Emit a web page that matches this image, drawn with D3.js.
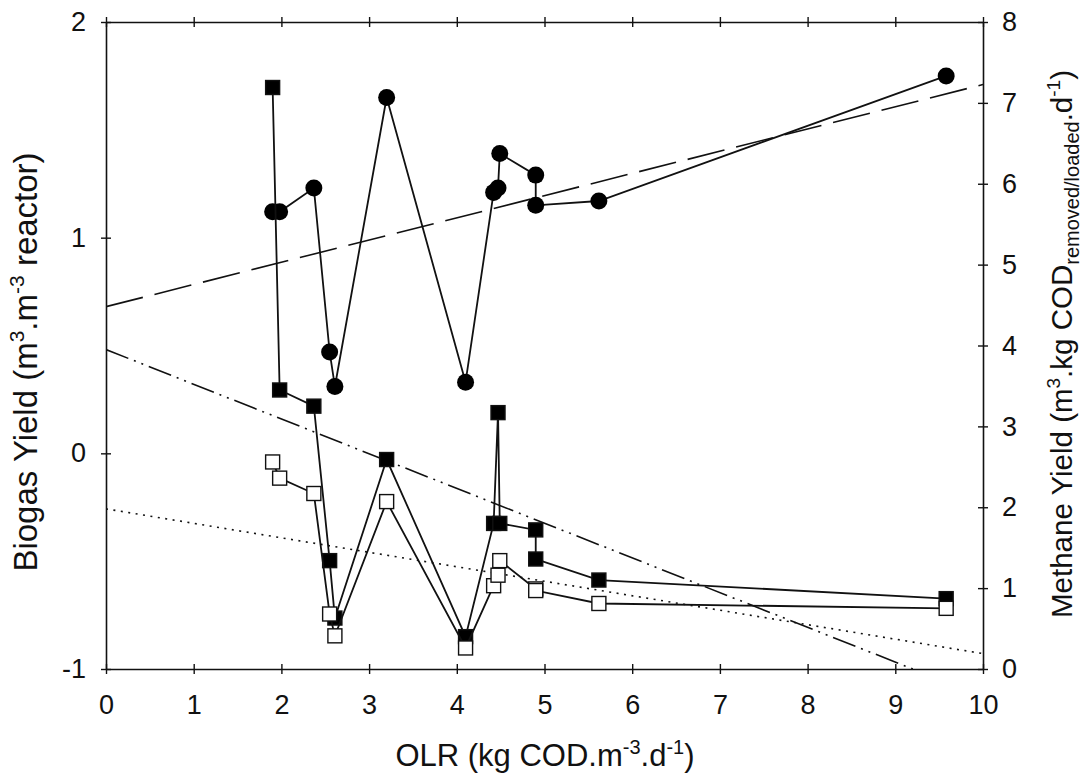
<!DOCTYPE html>
<html>
<head>
<meta charset="utf-8">
<script src="https://cdn.jsdelivr.net/npm/d3@7"></script>
<style>
  body { margin: 0; background: #fff; }
  text { font-family: "Liberation Sans", Arial, sans-serif; fill: #111; }
</style>
</head>
<body>
<div id="chart"></div>
<script>
// OLR samples (kg COD.m-3.d-1)
var olr = [1.90, 1.98, 2.37, 2.55, 2.61, 3.20, 4.10, 4.42, 4.47, 4.49, 4.90, 4.90, 5.62, 9.58];
// left axis, circles
var biogasYield = [1.12, 1.12, 1.23, 0.47, 0.31, 1.65, 0.33, 1.21, 1.23, 1.39, 1.29, 1.15, 1.17, 1.75];
// right axis, filled squares
var methaneRemoved = [7.19, 3.45, 3.25, 1.34, 0.63, 2.59, 0.40, 1.80, 3.17, 1.80, 1.72, 1.36, 1.10, 0.87];
// right axis, open squares
var methaneLoaded = [2.56, 2.36, 2.17, 0.68, 0.41, 2.07, 0.26, 1.03, 1.16, 1.34, 0.99, 0.97, 0.81, 0.75];

// regression lines
var biogasFitX = [0, 10], biogasFit = [0.68, 1.71];
var removedFitX = [0, 9.2], removedFit = [3.95, 0];
var loadedFitX = [0, 10], loadedFit = [1.98, 0.19];

var xTicks = [0, 1, 2, 3, 4, 5, 6, 7, 8, 9, 10];
var leftTicks = [-1, 0, 1, 2];
var rightTicks = [0, 1, 2, 3, 4, 5, 6, 7, 8];

var width = 1086, height = 777;
var x0 = 106, x1 = 983, yTop = 22, yBot = 669;

var svg = d3.select("#chart").append("svg")
    .attr("width", width)
    .attr("height", height);

var x = d3.scaleLinear().domain([0, 10]).range([x0, x1]);
var yL = d3.scaleLinear().domain([-1, 2]).range([yBot, yTop]);
var yR = d3.scaleLinear().domain([0, 8]).range([yBot, yTop]);

// plain hyphen for negatives, like the original
var fmt = function(d) { return String(d); };

function crossTicks(g, dir) {
    g.select(".domain").attr("stroke-width", 1.6).attr("stroke", "#111");
    if (dir === "h") g.selectAll(".tick line").attr("y1", -5).attr("y2", 5);
    else g.selectAll(".tick line").attr("x1", -5).attr("x2", 5);
    g.selectAll(".tick line").attr("stroke-width", 1.4).attr("stroke", "#111");
    g.selectAll(".tick text").style("font-size", "27px").attr("fill", "#111");
}

svg.append("g")
    .attr("transform", "translate(0," + yBot + ")")
    .call(d3.axisBottom(x).tickValues(xTicks).tickSize(0).tickPadding(26).tickFormat(fmt))
    .call(crossTicks, "h");

svg.append("g")
    .attr("transform", "translate(0," + yTop + ")")
    .call(d3.axisTop(x).tickValues(xTicks).tickSize(0).tickFormat(""))
    .call(crossTicks, "h");

svg.append("g")
    .attr("transform", "translate(" + x0 + ",0)")
    .call(d3.axisLeft(yL).tickValues(leftTicks).tickSize(0).tickPadding(20).tickFormat(fmt))
    .call(crossTicks, "v");

svg.append("g")
    .attr("transform", "translate(" + x1 + ",0)")
    .call(d3.axisRight(yR).tickValues(rightTicks).tickSize(0).tickPadding(19).tickFormat(fmt))
    .call(crossTicks, "v");

var plot = svg.append("g");
plot.append("clipPath").attr("id", "clip")
    .append("rect").attr("x", x0).attr("y", yTop).attr("width", x1 - x0).attr("height", yBot - yTop);

// fit lines
function fitLine(xs, ys, yscale, dash) {
    plot.append("path")
        .datum(d3.zip(xs, ys))
        .attr("clip-path", "url(#clip)")
        .attr("fill", "none")
        .attr("stroke", "#111")
        .attr("stroke-width", 1.6)
        .attr("stroke-dasharray", dash)
        .attr("d", d3.line().x(function(d) { return x(d[0]); }).y(function(d) { return yscale(d[1]); }));
}
fitLine(biogasFitX, biogasFit, yL, "38,12");
fitLine(removedFitX, removedFit, yR, "24,6,2,6,2,6");
fitLine(loadedFitX, loadedFit, yR, "2,5.5");

function series(vals, ys, marker) {
    var pts = d3.zip(olr, vals);
    plot.append("path")
        .datum(pts)
        .attr("fill", "none")
        .attr("stroke", "#111")
        .attr("stroke-width", 1.8)
        .attr("d", d3.line().x(function(d) { return x(d[0]); }).y(function(d) { return ys(d[1]); }));
    var g = plot.append("g");
    if (marker === "circle") {
        g.selectAll("circle").data(pts).enter().append("circle")
            .attr("cx", function(d) { return x(d[0]); })
            .attr("cy", function(d) { return ys(d[1]); })
            .attr("r", 8.5)
            .attr("fill", "#000");
    } else {
        var s = 14;
        g.selectAll("rect").data(pts).enter().append("rect")
            .attr("x", function(d) { return x(d[0]) - s / 2; })
            .attr("y", function(d) { return ys(d[1]) - s / 2; })
            .attr("width", s).attr("height", s)
            .attr("fill", marker === "filled" ? "#000" : "#fff")
            .attr("stroke", "#111")
            .attr("stroke-width", 1.4);
    }
}
series(biogasYield, yL, "circle");
series(methaneRemoved, yR, "filled");
series(methaneLoaded, yR, "open");

// axis titles
var xt = svg.append("text")
    .attr("x", 545)
    .attr("y", 766)
    .attr("text-anchor", "middle")
    .attr("font-size", 31);
xt.append("tspan").text("OLR (kg COD.m");
xt.append("tspan").attr("font-size", 20).attr("dy", -12).text("-3");
xt.append("tspan").attr("dy", 12).text(".d");
xt.append("tspan").attr("font-size", 20).attr("dy", -12).text("-1");
xt.append("tspan").attr("dy", 12).text(")");

var lt = svg.append("text")
    .attr("transform", "translate(37,362) rotate(-90)")
    .attr("text-anchor", "middle")
    .attr("font-size", 33);
lt.append("tspan").text("Biogas Yield (m");
lt.append("tspan").attr("font-size", 21).attr("dy", -13).text("3");
lt.append("tspan").attr("dy", 13).text(".m");
lt.append("tspan").attr("font-size", 21).attr("dy", -13).text("-3");
lt.append("tspan").attr("dy", 13).text(" reactor)");

var rt = svg.append("text")
    .attr("transform", "translate(1072,344) rotate(-90)")
    .attr("text-anchor", "middle")
    .attr("font-size", 29.5);
rt.append("tspan").text("Methane Yield (m");
rt.append("tspan").attr("font-size", 19).attr("dy", -12).text("3");
rt.append("tspan").attr("dy", 12).text(".kg COD");
rt.append("tspan").attr("font-size", 20).attr("dy", 7).text("removed/loaded");
rt.append("tspan").attr("dy", -7).text(".d");
rt.append("tspan").attr("font-size", 19).attr("dy", -12).text("-1");
rt.append("tspan").attr("dy", 12).text(")");
</script>
</body>
</html>
